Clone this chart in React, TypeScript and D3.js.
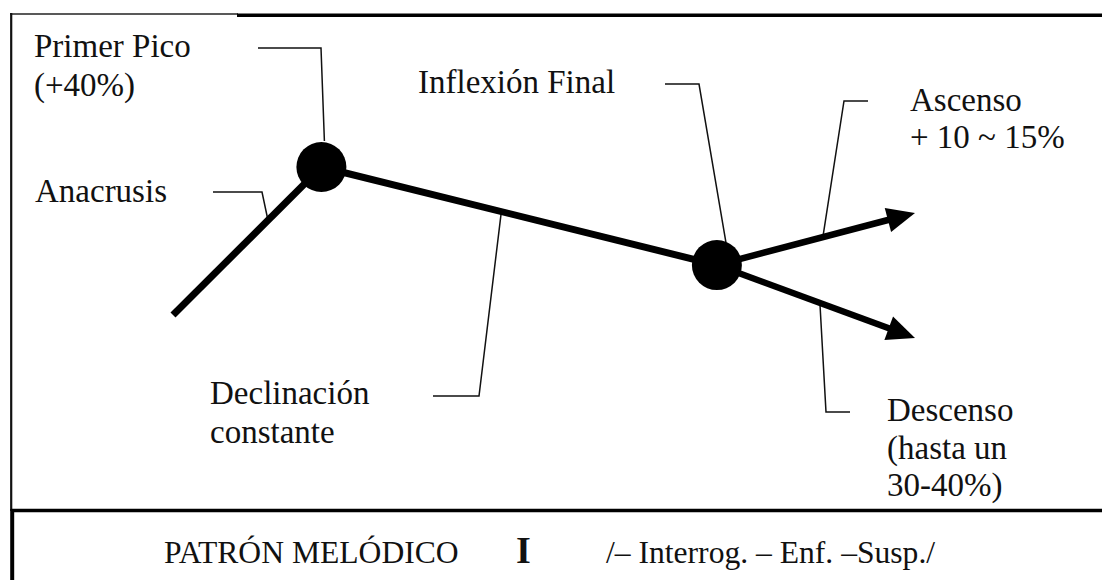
import React from "react";
import * as d3 from "d3";

// ---- data (melodic contour: normalized time vs relative pitch %) ----
const nodeNames = ["Inicio", "Primer Pico", "Inflexión Final"];
const nodeTime = [0, 0.2, 0.733];
const nodePitch = [100, 140, 113.5];
const branchNames = ["Ascenso", "Descenso"];
const branchTime = [1, 1];
const branchPitch = [127.6, 93.8];

const labelPrimerPico = ["Primer Pico", "(+40%)"];
const labelAnacrusis = ["Anacrusis"];
const labelInflexion = ["Inflexión Final"];
const labelAscenso = ["Ascenso", "+ 10 ~ 15%"];
const labelDeclinacion = ["Declinación", "constante"];
const labelDescenso = ["Descenso", "(hasta un", "30-40%)"];
const footerTitle = "PATRÓN MELÓDICO";
const footerNumeral = "I";
const footerTypes = "/– Interrog. – Enf. –Susp./";

const W = 1102;
const H = 580;
const FONT = "Liberation Serif, Tinos, Times New Roman, Times, DejaVu Serif, serif";

export default function App() {
  const x = d3.scaleLinear().domain([0, 1]).range([173, 915]);
  const y = d3.scaleLinear().domain([100, 140]).range([315, 167]);

  const pts = nodeTime.map((t, i) => [x(t), y(nodePitch[i])] as [number, number]);
  const tips = branchTime.map((t, i) => [x(t), y(branchPitch[i])] as [number, number]);
  const line = d3.line();
  const lerp = (a: [number, number], b: [number, number], t: number): [number, number] => [
    a[0] + (b[0] - a[0]) * t,
    a[1] + (b[1] - a[1]) * t,
  ];

  const headLen = 28;
  const headHalf = 12.5;
  const arrows = tips.map((tip) => {
    const from = pts[2];
    const dx = tip[0] - from[0];
    const dy = tip[1] - from[1];
    const L = Math.hypot(dx, dy);
    const ux = dx / L, uy = dy / L;
    const base: [number, number] = [tip[0] - ux * headLen, tip[1] - uy * headLen];
    const shaft = line([from, [base[0] + ux * 3, base[1] + uy * 3]]);
    const head = line([
      tip,
      [base[0] - uy * headHalf, base[1] + ux * headHalf],
      [base[0] + uy * headHalf, base[1] - ux * headHalf],
    ]) + "Z";
    return { shaft, head };
  });

  // leader lines: text-side end, elbow, anchor on the contour
  const anchorAnac = lerp(pts[0], pts[1], 0.64);
  const anchorDecl = lerp(pts[1], pts[2], 0.455);
  const anchorAsc = lerp(pts[2], tips[0], 0.535);
  const anchorDesc = lerp(pts[2], tips[1], 0.52);
  const leaders: [number, number][][] = [
    [[258, 48], [321, 48], [pts[1][0] + 3, pts[1][1] - 26]],
    [[213, 192], [262, 192], anchorAnac],
    [[433, 396], [479, 396], anchorDecl],
    [[665, 84], [699, 84], [pts[2][0] + 9, pts[2][1] - 23]],
    [[868, 101], [844, 101], anchorAsc],
    [[850, 412], [826, 412], anchorDesc],
  ];

  const txtStyle = { fontFamily: FONT, fontSize: 33 } as React.CSSProperties;
  const footStyle = { fontFamily: FONT, fontSize: 31.6 } as React.CSSProperties;

  const textBlock = (lines: string[], tx: number, ty: number, lh: number, key: string) => (
    <text key={key} x={tx} y={ty} style={txtStyle} fill="#111">
      {lines.map((s, i) => (
        <tspan key={i} x={tx} y={ty + i * lh}>
          {s}
        </tspan>
      ))}
    </text>
  );

  return (
    <svg
      width={W}
      height={H}
      viewBox={`0 0 ${W} ${H}`}
      style={{ position: "absolute", left: 0, top: 0, background: "#fff" }}
    >
      <rect x={0} y={0} width={W} height={H} fill="#fff" />
      {/* frame */}
      <line x1={10} y1={14} x2={238} y2={14} stroke="#222" strokeWidth={1.6} />
      <line x1={237} y1={15.2} x2={W} y2={15.2} stroke="#000" strokeWidth={3.4} />
      <line x1={11.2} y1={13} x2={11.2} y2={511} stroke="#111" strokeWidth={2.2} />
      <line x1={12.2} y1={509} x2={12.2} y2={H} stroke="#000" strokeWidth={4} />
      <line x1={11} y1={510.5} x2={W} y2={510.5} stroke="#000" strokeWidth={3.4} />

      {/* leader lines */}
      {leaders.map((l, i) => (
        <path key={i} d={line(l) || ""} fill="none" stroke="#111" strokeWidth={1.5} />
      ))}

      {/* contour */}
      <path d={line([pts[0], pts[1]]) || ""} stroke="#000" strokeWidth={7} fill="none" />
      <path d={line([pts[1], pts[2]]) || ""} stroke="#000" strokeWidth={7} fill="none" />
      {arrows.map((a, i) => (
        <g key={branchNames[i]}>
          <path d={a.shaft || ""} stroke="#000" strokeWidth={6.5} fill="none" />
          <path d={a.head} fill="#000" />
        </g>
      ))}
      {pts.slice(1).map((p, i) => (
        <circle key={nodeNames[i + 1]} cx={p[0]} cy={p[1]} r={25} fill="#000" />
      ))}

      {/* labels */}
      {textBlock(labelPrimerPico, 34, 57, 39, "pp")}
      {textBlock(labelAnacrusis, 35, 202, 38, "an")}
      {textBlock(labelInflexion, 418, 93, 38, "inf")}
      {textBlock(labelAscenso, 910, 111, 37, "asc")}
      {textBlock(labelDeclinacion, 210, 404, 39, "dec")}
      {textBlock(labelDescenso, 887, 421, 37.5, "des")}

      {/* footer */}
      <text x={164} y={563} style={footStyle} fill="#111">
        {footerTitle}
      </text>
      <text x={516} y={563} style={{ fontFamily: FONT, fontSize: 38, fontWeight: "bold" }} fill="#111">
        {footerNumeral}
      </text>
      <text x={606} y={563} style={footStyle} fill="#111">
        {footerTypes}
      </text>
    </svg>
  );
}
